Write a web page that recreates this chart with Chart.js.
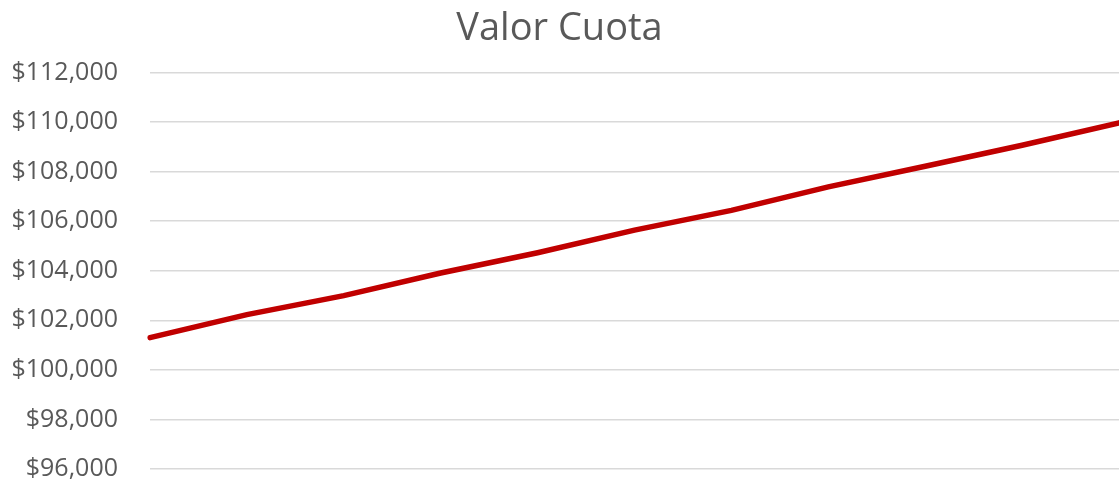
<!DOCTYPE html>
<html>
<head>
<meta charset="utf-8">
<script src="https://cdn.jsdelivr.net/npm/chart.js@4"></script>
<style>
  html, body { margin: 0; padding: 0; background: #fff; }
  #wrap { width: 1119px; height: 481px; }
</style>
</head>
<body>
<div id="wrap"><canvas id="cuotaChart"></canvas></div>
<script>
// Datos
const periodos = ['1', '2', '3', '4', '5', '6', '7', '8', '9', '10', '11'];
const valorCuota = [101300, 102230, 103000, 103910, 104730, 105640, 106440, 107390, 108220, 109070, 109970];
const tituloGrafico = 'Valor Cuota';
const ejeMin = 96000;
const ejeMax = 112000;
const ejePaso = 2000;

const ctx = document.getElementById('cuotaChart').getContext('2d');
const cuotaChart = new Chart(ctx, {
  type: 'line',
  data: {
    labels: periodos,
    datasets: [{
      label: tituloGrafico,
      data: valorCuota,
      borderColor: '#C00000',
      borderWidth: 5.5,
      pointRadius: 0,
      tension: 0,
      borderCapStyle: 'round'
    }]
  },
  options: {
    responsive: true,
    maintainAspectRatio: false,
    animation: false,
    layout: { padding: { left: 0, right: 0, top: 0, bottom: 1 } },
    plugins: {
      legend: { display: false },
      tooltip: { enabled: false },
      title: {
        display: true,
        text: tituloGrafico,
        color: '#595959',
        font: { family: 'Open Sans', size: 38, weight: 'normal' },
        padding: { top: 6, bottom: 21 }
      }
    },
    scales: {
      x: {
        display: false,
        offset: false
      },
      y: {
        min: ejeMin,
        max: ejeMax,
        border: { display: false },
        grid: { color: '#d9d9d9', lineWidth: 1.5, drawTicks: false },
        ticks: {
          stepSize: ejePaso,
          padding: 32,
          color: '#595959',
          font: { family: 'Open Sans', size: 25 },
          callback: function(v) { return '$' + v.toLocaleString('en-US'); }
        },
        afterFit: function(scale) {
          scale.width = 150;
          scale.paddingTop = 12;
          scale.paddingBottom = 12;
        }
      }
    }
  }
});
</script>
</body>
</html>
